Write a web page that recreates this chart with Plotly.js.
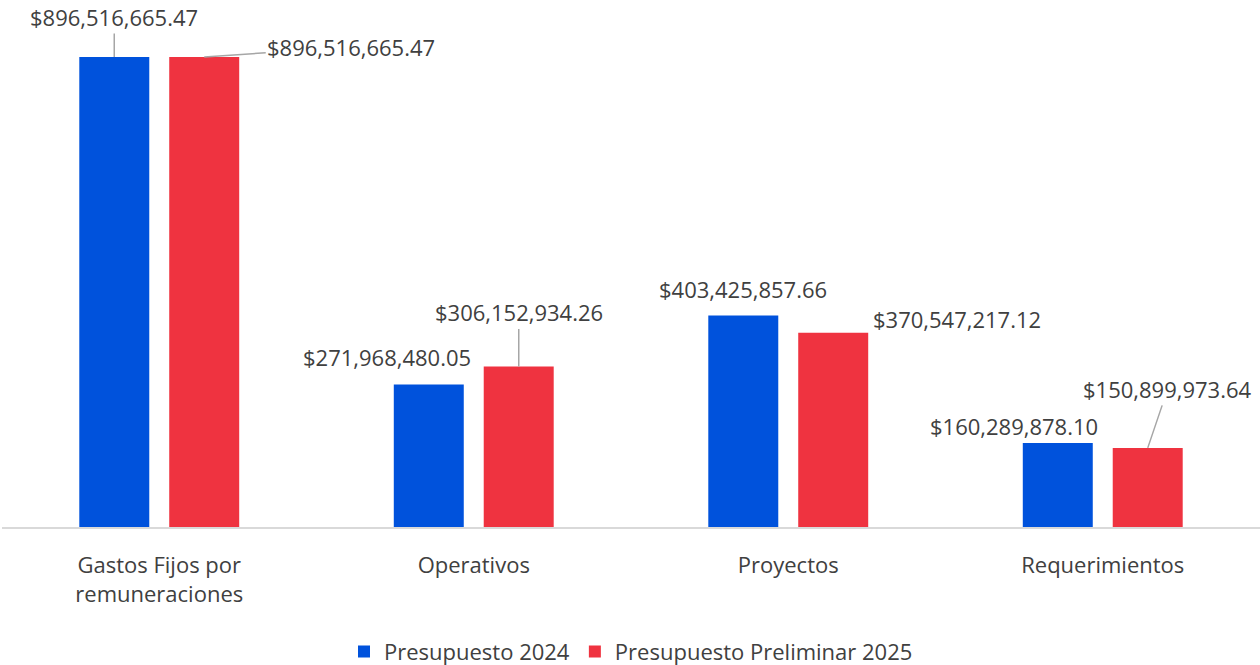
<!DOCTYPE html>
<html>
<head>
<meta charset="utf-8">
<script src="https://cdn.plot.ly/plotly-3.0.1.min.js"></script>
<style>
  html, body { margin: 0; padding: 0; background: #fff; }
  #grafico { width: 1260px; height: 665px; }
</style>
</head>
<body>
<div id="grafico"></div>
<script>
const categorias = ['Gastos Fijos por<br>remuneraciones', 'Operativos', 'Proyectos', 'Requerimientos'];
const presupuesto2024 = [896516665.47, 271968480.05, 403425857.66, 160289878.10];
const preliminar2025 = [896516665.47, 306152934.26, 370547217.12, 150899973.64];
const series = ['Presupuesto 2024', 'Presupuesto Preliminar 2025'];

const azul = '#0052DC';
const rojo = '#EF3340';
const colorTexto = '#404040';
const fuente = 'Open Sans, sans-serif';
const tamano = 22;

function formatoMoneda(v) {
    return '$' + v.toLocaleString('en-US', { minimumFractionDigits: 2, maximumFractionDigits: 2 });
}

const data = [
    { type: 'bar', name: series[0], x: categorias, y: presupuesto2024, marker: { color: azul }, hoverinfo: 'none' },
    { type: 'bar', name: series[1], x: categorias, y: preliminar2025, marker: { color: rojo }, hoverinfo: 'none' }
];

// posiciones de las etiquetas (desplazamiento en pixeles respecto a la punta de cada barra)
const etiquetas2024 = [
    { ax: 0, ay: -40, flecha: true },
    { xs: -42, ys: 27 },
    { xs: 0, ys: 26 },
    { xs: -44, ys: 17 }
];
const etiquetas2025 = [
    { ax: 147, ay: -10, flecha: true },
    { ax: 0, ay: -54, flecha: true },
    { xs: 124, ys: 14 },
    { ax: 20, ay: -59, flecha: true }
];

const annotations = [];
function agregarEtiquetas(valores, conf, serie) {
    valores.forEach((v, i) => {
        const c = conf[i];
        const a = {
            x: categorias[i], y: v, xref: 'x', yref: 'y',
            text: formatoMoneda(v),
            font: { family: fuente, size: tamano, color: colorTexto },
            xshift: serie === 0 ? -45 : 45
        };
        if (c.flecha) {
            a.showarrow = true;
            a.arrowhead = 0;
            a.arrowwidth = 1.5;
            a.arrowcolor = '#a6a6a6';
            a.ax = c.ax;
            a.ay = c.ay;
            a.standoff = 0;
        } else {
            a.showarrow = false;
            a.xshift += c.xs;
            a.yshift = c.ys;
        }
        annotations.push(a);
    });
}
agregarEtiquetas(presupuesto2024, etiquetas2024, 0);
agregarEtiquetas(preliminar2025, etiquetas2025, 1);

const layout = {
    width: 1260,
    height: 665,
    margin: { l: 2, r: 0, t: 20, b: 138, autoexpand: false },
    paper_bgcolor: '#fff',
    plot_bgcolor: '#fff',
    barmode: 'group',
    bargap: 0.428,
    bargroupgap: 0.222,
    font: { family: fuente, size: tamano, color: colorTexto },
    xaxis: {
        showline: true,
        linecolor: '#d9d9d9',
        linewidth: 2,
        ticks: 'outside',
        ticklen: 18,
        tickcolor: 'rgba(0,0,0,0)',
        tickfont: { family: fuente, size: tamano, color: colorTexto },
        automargin: false,
        fixedrange: true
    },
    yaxis: {
        range: [0, 967e6],
        visible: false,
        showgrid: false,
        zeroline: false,
        fixedrange: true
    },
    showlegend: true,
    legend: {
        orientation: 'h',
        x: 0.5,
        xanchor: 'center',
        y: -0.246,
        yanchor: 'middle',
        font: { family: fuente, size: tamano, color: colorTexto },
        itemclick: false
    },
    annotations: annotations
};

Plotly.newPlot('grafico', data, layout, { displayModeBar: false, staticPlot: true });
</script>
</body>
</html>
